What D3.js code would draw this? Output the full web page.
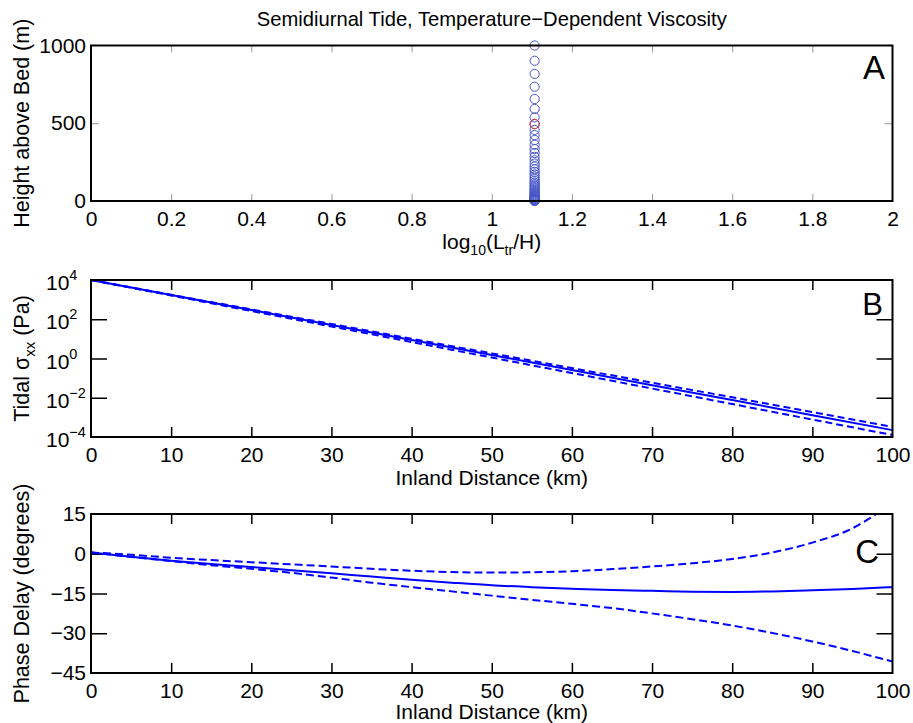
<!DOCTYPE html>
<html><head><meta charset="utf-8">
<script src="https://cdn.jsdelivr.net/npm/d3@7"></script>
<style>
body{margin:0;background:#fff}
text{font-family:Arial,"Liberation Sans",sans-serif;fill:#000}
</style>
</head><body>
<svg id="c" width="913" height="723"></svg>
<script>
// ---------- data ----------
const titleText = "Semidiurnal Tide, Temperature\u2212Dependent Viscosity";
const layerLogRatio = 1.107;
const layerHeights = [1000, 902, 817, 735, 656, 592, 538, 495, 457, 424, 392, 362, 334, 308, 284, 262, 241, 222, 204, 187, 171, 157, 143, 131, 119, 108, 98, 89, 80, 72, 65, 58, 52, 46, 41, 36, 31, 27, 23, 19, 16, 13, 10, 7.5, 5, 3, 1.5, 0];
const highlightHeights = [495];
const ticksAx = [0, 0.2, 0.4, 0.6, 0.8, 1, 1.2, 1.4, 1.6, 1.8, 2];
const ticksAy = [0, 500, 1000];

const distKm = [0, 10, 20, 30, 40, 50, 60, 70, 80, 90, 100];
const sigmaMid  = [1e4, 1.74e3, 2.95e2, 51.3, 8.71, 1.51, 0.257, 0.0437, 0.00759, 0.00129, 2.24e-4];
const sigmaHigh = [1e4, 1.78e3, 3.16e2, 57.5, 10.2, 1.82, 0.324, 0.0589, 0.0105, 0.00186, 3.31e-4];
const sigmaLow  = [1e4, 1.62e3, 2.63e2, 42.7, 6.92, 1.12, 0.182, 0.0295, 0.00479, 7.76e-4, 1.26e-4];
const ticksBx = [0, 10, 20, 30, 40, 50, 60, 70, 80, 90, 100];
const ticksBexp = [-4, -2, 0, 2, 4];

const phaseKm = [0, 5, 10, 15, 20, 25, 30, 35, 40, 45, 50, 55, 60, 65, 70, 75, 80, 85, 90, 95, 100];
const phaseMid = [0.5, -1.1, -2.6, -3.9, -5.0, -6.2, -7.4, -8.6, -9.8, -10.9, -11.9, -12.6, -13.2, -13.7, -14.0, -14.3, -14.4, -14.2, -13.8, -13.3, -12.6];
const phaseLow = [0.5, -1.2, -2.8, -4.3, -5.7, -7.2, -9.0, -10.9, -12.6, -14.2, -15.8, -17.4, -18.9, -20.5, -22.5, -24.7, -27.1, -29.9, -33.1, -36.7, -40.7];
const phaseKmUp = [0, 5, 10, 15, 20, 25, 30, 35, 40, 45, 50, 55, 60, 65, 70, 75, 80, 85, 90, 95, 98];
const phaseHigh = [0.5, -0.4, -1.5, -2.4, -3.2, -4.0, -4.8, -5.7, -6.4, -6.9, -7.1, -7.0, -6.6, -5.8, -4.8, -3.6, -2.0, 0.5, 4.2, 9.6, 15];
const ticksCx = [0, 10, 20, 30, 40, 50, 60, 70, 80, 90, 100];
const ticksCy = [-45, -30, -15, 0, 15];

// ---------- layout ----------
const svg = d3.select("#c");
const L = 91, R = 892.5;
const pA = {t: 45.5, b: 201};
const pB = {t: 280, b: 437};
const pC = {t: 514, b: 673};
const blue = "#0000ff";
const FS = 21;
const LFS = 21.5;

svg.append("text").attr("x", (L + R) / 2).attr("y", 26).attr("text-anchor", "middle")
  .attr("font-size", 20.2).text(titleText);

function frame(p, sw) {
  svg.append("rect").attr("x", L).attr("y", p.t).attr("width", R - L).attr("height", p.b - p.t)
    .attr("fill", "none").attr("stroke", "#000").attr("stroke-width", sw);
}
function styleAxis(g, color, w) {
  g.select(".domain").remove();
  g.selectAll(".tick line").attr("stroke", color).attr("stroke-width", w);
  g.selectAll(".tick text").attr("font-size", FS).attr("font-family", "Arial, 'Liberation Sans', sans-serif").attr("fill", "#000");
}

// ---------- Panel A ----------
const xA = d3.scaleLinear().domain([0, 2]).range([L, R]);
const yA = d3.scaleLinear().domain([0, 1000]).range([pA.b, pA.t]);
{
  const gx = svg.append("g").attr("transform", `translate(0,${pA.b})`)
    .call(d3.axisBottom(xA).tickValues(ticksAx).tickFormat(d3.format("")).tickSize(-7).tickSizeOuter(0).tickPadding(10));
  styleAxis(gx, "#999", 1);
  const gt = svg.append("g").attr("transform", `translate(0,${pA.t})`)
    .call(d3.axisTop(xA).tickValues(ticksAx).tickFormat("").tickSize(-7).tickSizeOuter(0));
  styleAxis(gt, "#999", 1);
  const gy = svg.append("g").attr("transform", `translate(${L},0)`)
    .call(d3.axisLeft(yA).tickValues(ticksAy).tickFormat(d3.format("d")).tickSize(-8).tickSizeOuter(0).tickPadding(5));
  styleAxis(gy, "#999", 1);
  const gr = svg.append("g").attr("transform", `translate(${R},0)`)
    .call(d3.axisRight(yA).tickValues(ticksAy).tickFormat("").tickSize(-8).tickSizeOuter(0));
  styleAxis(gr, "#999", 1);
  [gx, gt].forEach(g => g.selectAll(".tick line").filter(d => d === 0 || d === 2).remove());
  [gy, gr].forEach(g => g.selectAll(".tick line").filter(d => d === 0 || d === 1000).remove());

  svg.append("g").selectAll("circle").data(layerHeights).join("circle")
    .attr("cx", xA(layerLogRatio)).attr("cy", d => yA(d)).attr("r", 4.6)
    .attr("fill", "none").attr("stroke", "#4858c8").attr("stroke-width", 1);
  svg.append("g").selectAll("circle").data(highlightHeights).join("circle")
    .attr("cx", xA(layerLogRatio)).attr("cy", d => yA(d)).attr("r", 4.6)
    .attr("fill", "none").attr("stroke", "#e0303a").attr("stroke-width", 1);
  frame(pA, 2);

  const lab = svg.append("text").attr("x", (L + R) / 2).attr("y", 249).attr("text-anchor", "middle").attr("font-size", FS);
  lab.append("tspan").text("log");
  lab.append("tspan").attr("font-size", 14).attr("dy", 6).text("10");
  lab.append("tspan").attr("dy", -6).text("(L");
  lab.append("tspan").attr("font-size", 14).attr("dy", 6).text("tr");
  lab.append("tspan").attr("dy", -6).text("/H)");

  svg.append("text").attr("transform", `translate(29,${(pA.t + pA.b) / 2}) rotate(-90)`)
    .attr("text-anchor", "middle").attr("font-size", LFS).text("Height above Bed (m)");
  svg.append("text").attr("x", 885).attr("y", 79).attr("text-anchor", "end").attr("font-size", 33).text("A");
}

// ---------- Panel B ----------
const xB = d3.scaleLinear().domain([0, 100]).range([L, R]);
const yB = d3.scaleLog().domain([1e-4, 1e4]).range([pB.b, pB.t]);
{
  const ticksBy = ticksBexp.map(e => Math.pow(10, e));
  const gx = svg.append("g").attr("transform", `translate(0,${pB.b})`)
    .call(d3.axisBottom(xB).tickValues(ticksBx).tickFormat(d3.format("")).tickSize(-10).tickSizeOuter(0).tickPadding(10));
  styleAxis(gx, "#000", 1.5);
  const gt = svg.append("g").attr("transform", `translate(0,${pB.t})`)
    .call(d3.axisTop(xB).tickValues(ticksBx).tickFormat("").tickSize(-10).tickSizeOuter(0));
  styleAxis(gt, "#000", 1.5);
  const gy = svg.append("g").attr("transform", `translate(${L},0)`)
    .call(d3.axisLeft(yB).tickValues(ticksBy).tickFormat("").tickSize(-16).tickSizeOuter(0));
  styleAxis(gy, "#000", 1.5);
  const gr = svg.append("g").attr("transform", `translate(${R},0)`)
    .call(d3.axisRight(yB).tickValues(ticksBy).tickFormat("").tickSize(-16).tickSizeOuter(0));
  styleAxis(gr, "#000", 1.5);
  [gx, gt].forEach(g => g.selectAll(".tick line").filter(d => d === 0 || d === 100).remove());
  [gy, gr].forEach(g => g.selectAll(".tick line").filter(d => d <= 1e-4 || d >= 1e4).remove());

  ticksBexp.forEach(e => {
    const t = svg.append("text").attr("x", 46).attr("y", yB(Math.pow(10, e)) + 10).attr("font-size", FS);
    t.append("tspan").text("10");
    t.append("tspan").attr("font-size", 14.5).attr("dy", -10).text(e < 0 ? "\u2212" + (-e) : String(e));
  });

  const line = d3.line().x((d, i) => xB(distKm[i])).y(d => yB(d));
  svg.append("path").attr("d", line(sigmaHigh)).attr("fill", "none").attr("stroke", blue).attr("stroke-width", 2).attr("stroke-dasharray", "7,4");
  svg.append("path").attr("d", line(sigmaLow)).attr("fill", "none").attr("stroke", blue).attr("stroke-width", 2).attr("stroke-dasharray", "7,4");
  svg.append("path").attr("d", line(sigmaMid)).attr("fill", "none").attr("stroke", blue).attr("stroke-width", 2);
  frame(pB, 2);

  svg.append("text").attr("x", (L + R) / 2).attr("y", 485).attr("text-anchor", "middle").attr("font-size", FS).text("Inland Distance (km)");
  const yl = svg.append("text").attr("transform", `translate(29,${(pB.t + pB.b) / 2}) rotate(-90)`)
    .attr("text-anchor", "middle").attr("font-size", LFS);
  yl.append("tspan").text("Tidal \u03c3");
  yl.append("tspan").attr("font-size", 15).attr("dy", 6).text("xx");
  yl.append("tspan").attr("dy", -6).text(" (Pa)");
  svg.append("text").attr("x", 883).attr("y", 315).attr("text-anchor", "end").attr("font-size", 31).text("B");
}

// ---------- Panel C ----------
const xC = d3.scaleLinear().domain([0, 100]).range([L, R]);
const yC = d3.scaleLinear().domain([-45, 15]).range([pC.b, pC.t]);
{
  const gx = svg.append("g").attr("transform", `translate(0,${pC.b})`)
    .call(d3.axisBottom(xC).tickValues(ticksCx).tickFormat(d3.format("")).tickSize(-10).tickSizeOuter(0).tickPadding(10));
  styleAxis(gx, "#000", 1.5);
  const gt = svg.append("g").attr("transform", `translate(0,${pC.t})`)
    .call(d3.axisTop(xC).tickValues(ticksCx).tickFormat("").tickSize(-10).tickSizeOuter(0));
  styleAxis(gt, "#000", 1.5);
  const gy = svg.append("g").attr("transform", `translate(${L},0)`)
    .call(d3.axisLeft(yC).tickValues(ticksCy).tickFormat(d => d < 0 ? "\u2212" + (-d) : String(d)).tickSize(-16).tickSizeOuter(0).tickPadding(5));
  styleAxis(gy, "#000", 1.5);
  const gr = svg.append("g").attr("transform", `translate(${R},0)`)
    .call(d3.axisRight(yC).tickValues(ticksCy).tickFormat("").tickSize(-16).tickSizeOuter(0));
  styleAxis(gr, "#000", 1.5);
  [gx, gt].forEach(g => g.selectAll(".tick line").filter(d => d === 0 || d === 100).remove());
  [gy, gr].forEach(g => g.selectAll(".tick line").filter(d => d === -45 || d === 15).remove());

  const lineC = xs => d3.line().curve(d3.curveMonotoneX).x((d, i) => xC(xs[i])).y(d => yC(d));
  svg.append("path").attr("d", lineC(phaseKmUp)(phaseHigh)).attr("fill", "none").attr("stroke", blue).attr("stroke-width", 2).attr("stroke-dasharray", "8,4");
  svg.append("path").attr("d", lineC(phaseKm)(phaseLow)).attr("fill", "none").attr("stroke", blue).attr("stroke-width", 2).attr("stroke-dasharray", "8,4");
  svg.append("path").attr("d", lineC(phaseKm)(phaseMid)).attr("fill", "none").attr("stroke", blue).attr("stroke-width", 2);
  frame(pC, 2);

  svg.append("text").attr("x", (L + R) / 2).attr("y", 719).attr("text-anchor", "middle").attr("font-size", FS).text("Inland Distance (km)");
  svg.append("text").attr("transform", `translate(29,${(pC.t + pC.b) / 2}) rotate(-90)`)
    .attr("text-anchor", "middle").attr("font-size", LFS).text("Phase Delay (degrees)");
  svg.append("text").attr("x", 879).attr("y", 563).attr("text-anchor", "end").attr("font-size", 33).text("C");
}
</script>
</body></html>
